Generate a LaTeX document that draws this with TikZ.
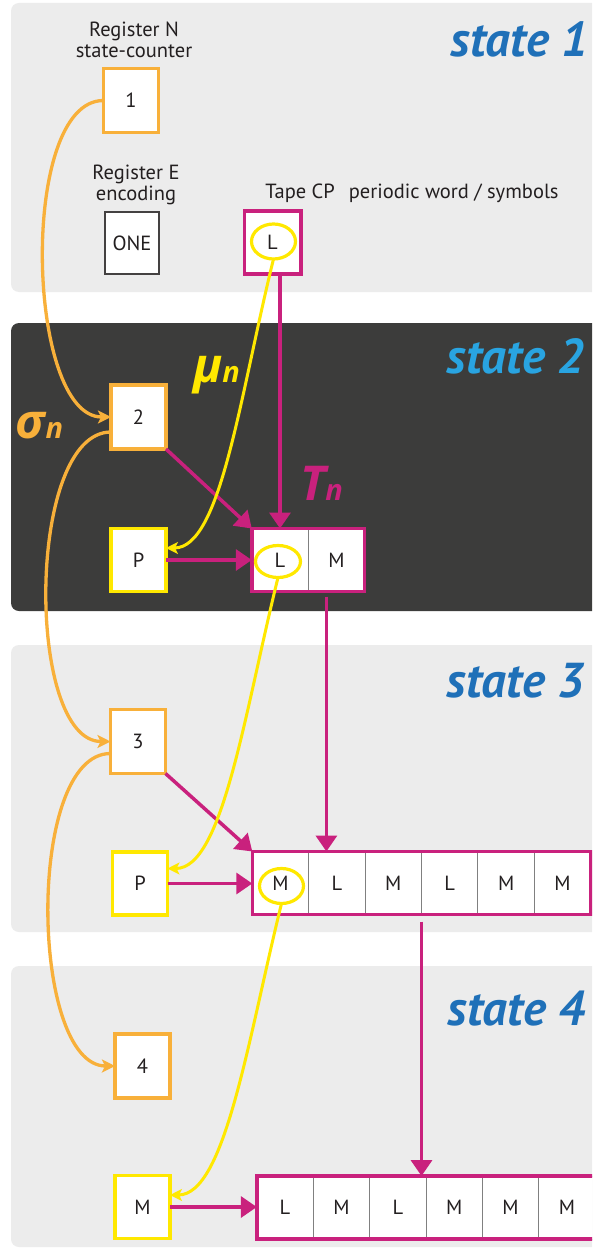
\documentclass[tikz,border=0pt]{standalone}
\usepackage{fontspec}
\setmainfont{PT Sans}
\newfontfamily\grk{Open Sans}
\usetikzlibrary{arrows.meta,shapes.geometric,fit,calc,positioning}
\definecolor{orng}{HTML}{F8B03A}
\definecolor{yel}{HTML}{FFE800}
\definecolor{mag}{HTML}{C9217D}
\definecolor{dpanel}{HTML}{3C3C3B}
\definecolor{lpanel}{HTML}{ECECEC}
\definecolor{sblue}{HTML}{1F70B8}
\definecolor{lblue}{HTML}{29A4E1}
\definecolor{ink}{HTML}{231F20}
\begin{document}
\begin{tikzpicture}[x=1pt,y=-1pt,
  every node/.style={inner sep=0pt, outer sep=0pt, text=ink, font=\fontsize{20.5}{21}\selectfont},
  statepanel/.style={rounded corners=8pt},
  regbox/.style={draw=orng, line width=3.5pt, fill=white, minimum width=55pt, minimum height=64pt},
  posbox/.style={draw=yel, line width=3.5pt, fill=white, minimum width=55pt, minimum height=63pt},
  encbox/.style={draw=ink!85, line width=1.6pt, fill=white, minimum width=54pt, minimum height=62pt},
  tapecell/.style={draw=gray, line width=0.9pt, fill=white, minimum width=56.4pt, minimum height=63pt},
  tapeframe/.style={draw=mag, line width=3.6pt, inner sep=0pt},
  headring/.style={ellipse, draw=yel, line width=3.2pt, minimum width=44pt, minimum height=35pt},
  marrow/.style={draw=mag, line width=3.5pt, -{Triangle[length=16pt,width=21pt]}},
  oarrow/.style={draw=orng, line width=3.3pt, -{Stealth[length=13pt,width=13pt,inset=3pt]}},
  yarrow/.style={draw=yel, line width=3pt, -{Stealth[length=12pt,width=12pt,inset=3pt]}},
  statelbl/.style={anchor=base east, font=\fontsize{49}{49}\selectfont\bfseries\itshape},
  greeklbl/.style={anchor=base west, font=\grk\bfseries\itshape}
]
\useasboundingbox (0,0) rectangle (592,1249);
\clip (0,0) rectangle (592,1249);
\fill[white] (0,0) rectangle (592,1249);

% panels
\fill[lpanel, statepanel] (11,3) rectangle (620,292);
\fill[dpanel, statepanel] (11,323) rectangle (620,611);
\fill[lpanel, statepanel] (11,645) rectangle (620,932);
\fill[lpanel, statepanel] (11,966) rectangle (620,1247);

% state labels
\node[statelbl, text=sblue] (s1) at (588,57) {state 1};
\node[statelbl, text=lblue] (s2) at (584,373) {state 2};
\node[statelbl, text=sblue] (s3) at (584,697) {state 3};
\node[statelbl, text=sblue] (s4) at (585,1025) {state 4};

% state 1
\node[align=center] (regN) at (134,40) {Register N\\state-counter};
\node[regbox] (n1) at (131,100.5) {1};
\node[align=center] (regE) at (136,185) {Register E\\encoding};
\node[encbox] (one) at (132,243) {ONE};
\node (tapelbl) at (412,193) {Tape CP\hspace{14pt}periodic word / symbols};
\node[tapecell] (t1c1) at (272.5,242.5) {L};
\node[tapeframe, fit=(t1c1)] (tape1) {};

% state 2
\node[regbox] (n2) at (138.5,417) {2};
\node[posbox] (p2) at (138.5,560) {P};
\node[tapecell] (t2c1) at (280,560) {L};
\node[tapecell, right=0pt of t2c1] (t2c2) {M};
\node[tapeframe, fit=(t2c1)(t2c2)] (tape2) {};

% state 3
\node[regbox] (n3) at (138,741.5) {3};
\node[posbox] (p3) at (140,883.5) {P};
\node[tapecell] (t3c1) at (280.5,883) {M};
\node[tapecell, right=0pt of t3c1] (t3c2) {L};
\node[tapecell, right=0pt of t3c2] (t3c3) {M};
\node[tapecell, right=0pt of t3c3] (t3c4) {L};
\node[tapecell, right=0pt of t3c4] (t3c5) {M};
\node[tapecell, right=0pt of t3c5] (t3c6) {M};
\node[tapeframe, fit=(t3c1)(t3c6)] (tape3) {};

% state 4
\node[regbox] (n4) at (142.5,1066) {4};
\node[posbox] (m4) at (142.5,1207) {M};
\node[tapecell] (t4c1) at (285,1207.5) {L};
\node[tapecell, right=0pt of t4c1] (t4c2) {M};
\node[tapecell, right=0pt of t4c2] (t4c3) {L};
\node[tapecell, right=0pt of t4c3] (t4c4) {M};
\node[tapecell, right=0pt of t4c4] (t4c5) {M};
\node[tapecell, right=0pt of t4c5] (t4c6) {M};
\node[tapeframe, fit=(t4c1)(t4c6)] (tape4) {};

% magenta arrows
\draw[marrow] (tape1.south -| t2c1) -- (t2c1.north);
\draw[marrow] (n2.south east) -- (tape2.north west);
\draw[marrow] (p2.east) -- (p2.east -| tape2.west);
\draw[marrow] ($(t2c2.south)+(-10,5)$) -- ($(t2c2.south |- tape3.north)+(-10,0)$);
\draw[marrow] (n3.south east) -- (tape3.north west);
\draw[marrow] (p3.east) -- (p3.east -| tape3.west);
\draw[marrow] ($(t3c4.south west)+(0,7)$) -- (t3c4.south west |- tape4.north);
\draw[marrow] (m4.east) -- (m4.east -| tape4.west);

% orange sigma path
\draw[oarrow] (n1.west) .. controls +(-85,0) and +(-85,0) .. (n2.west);
\draw[oarrow] ($(n2.west)+(0,15)$) .. controls +(-85,0) and +(-85,0) .. (n3.west);
\draw[oarrow] ($(n3.west)+(0,12)$) .. controls +(-85,0) and +(-85,0) .. (n4.west);

% head rings
\node[headring] (e1) at (273.5,241.5) {};
\node[headring, minimum width=45pt, minimum height=32pt] (e2) at (278,561.5) {};
\node[headring] (e3) at (281.5,886) {};

% yellow mu path
\draw[yarrow] (e1.south) .. controls +(-34,138) and +(55,0) .. ($(p2.east)+(0,-12)$);
\draw[yarrow] (e2.south) .. controls +(-34,138) and +(55,0) .. ($(p3.east)+(0,-15)$);
\draw[yarrow] (e3.south) .. controls +(-34,138) and +(55,0) .. ($(m4.east)+(0,-12)$);

% greek labels
\node[greeklbl, text=orng] (sig) at (16,438) {{\fontsize{48}{48}\selectfont σ}{\fontsize{29}{29}\selectfont n}};
\node[greeklbl, text=yel] (mu) at (193,382) {{\fontsize{48}{48}\selectfont μ}{\fontsize{29}{29}\selectfont n}};
\node[greeklbl, text=mag] (tn) at (300,500) {{\fontsize{48}{48}\selectfont T}{\fontsize{29}{29}\selectfont n}};
\end{tikzpicture}
\end{document}
